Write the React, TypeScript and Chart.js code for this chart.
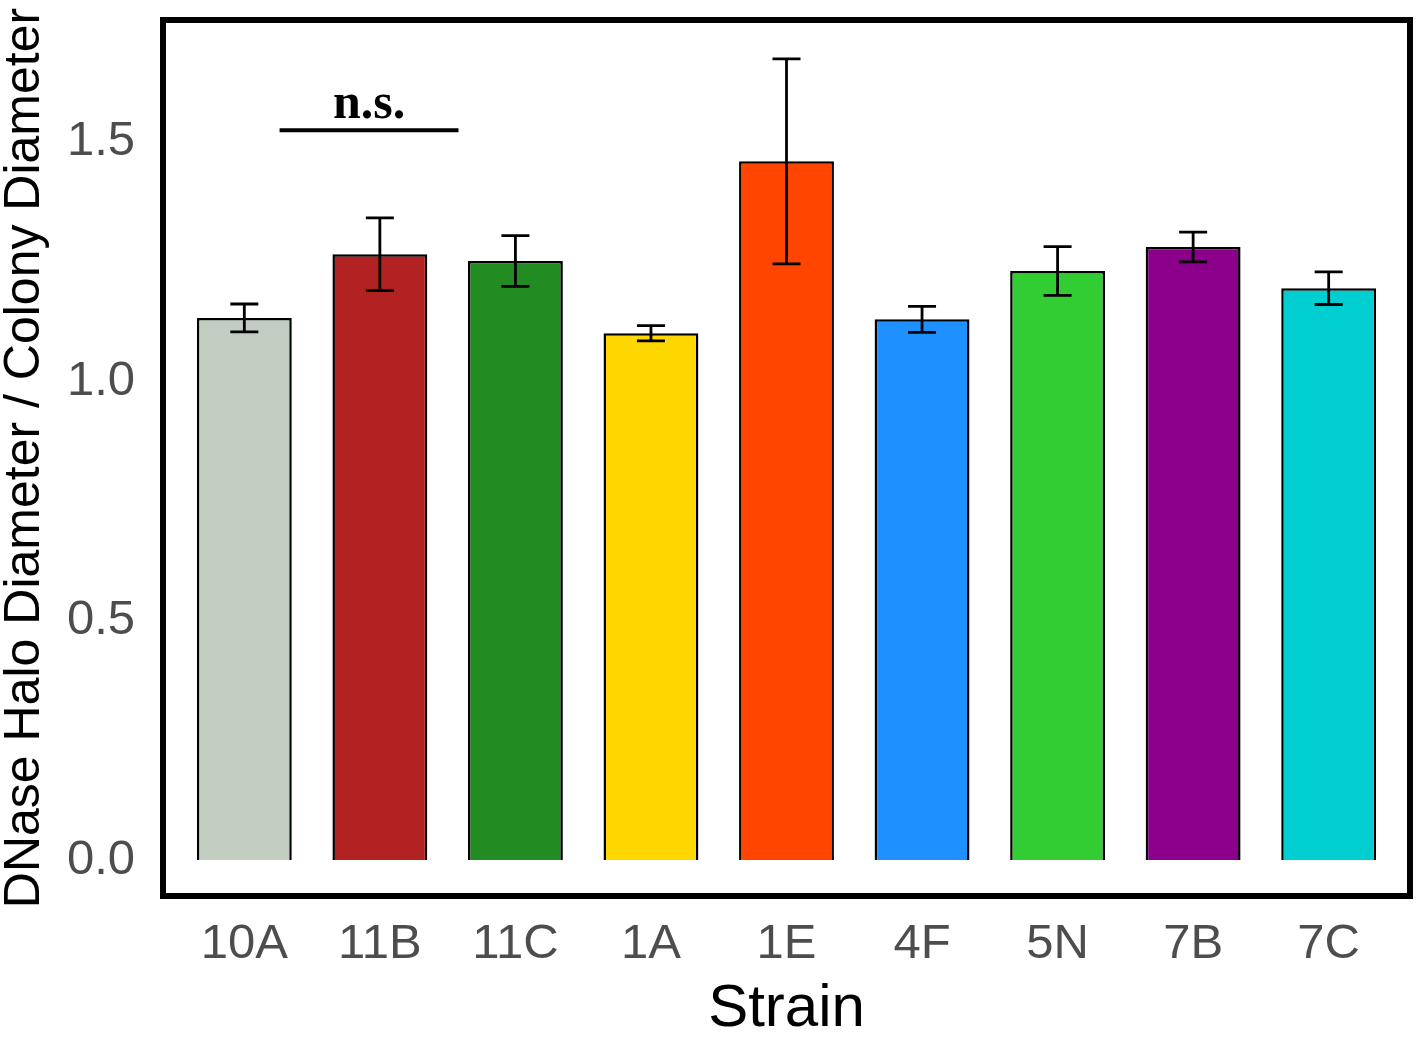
import React, { useEffect, useRef } from 'react';
import { Chart, registerables } from 'chart.js';

Chart.register(...registerables);

const strains = ['10A', '11B', '11C', '1A', '1E', '4F', '5N', '7B', '7C'];
const ratioMeans = [1.132, 1.265, 1.251, 1.1, 1.459, 1.129, 1.23, 1.28, 1.194];
const ratioErrors = [0.029, 0.076, 0.053, 0.016, 0.214, 0.027, 0.051, 0.031, 0.034];
const barColors = ['#c1cdc1', '#b22222', '#228b22', '#ffd700', '#ff4500', '#1e90ff', '#32cd32', '#8b008b', '#00ced1'];
const yTicks = [0, 0.5, 1.0, 1.5];

// significance bracket between 10A/11B/11C (x in category units, y in data units)
const nsFrom = 0.26;
const nsTo = 1.58;
const nsY = 1.524;
const nsLabel = 'n.s.';

const SANS = '"Liberation Sans", Arial, sans-serif';

const extrasPlugin = {
  id: 'extras',
  beforeDraw(chart: any) {
    const { ctx, width, height } = chart;
    ctx.save();
    ctx.fillStyle = '#ffffff';
    ctx.fillRect(0, 0, width, height);
    ctx.restore();
  },
  afterDatasetsDraw(chart: any) {
    const { ctx, chartArea, scales } = chart;
    const x = scales.x;
    const y = scales.y;
    ctx.save();

    // error bars
    ctx.strokeStyle = '#000';
    ctx.lineWidth = 2.8;
    ratioMeans.forEach((m, i) => {
      const px = x.getPixelForValue(i);
      const top = y.getPixelForValue(m + ratioErrors[i]);
      const bot = y.getPixelForValue(m - ratioErrors[i]);
      const cap = 14;
      ctx.beginPath();
      ctx.moveTo(px, top);
      ctx.lineTo(px, bot);
      ctx.moveTo(px - cap, top);
      ctx.lineTo(px + cap, top);
      ctx.moveTo(px - cap, bot);
      ctx.lineTo(px + cap, bot);
      ctx.stroke();
    });

    // n.s. bracket
    const ly = y.getPixelForValue(nsY);
    const lx1 = x.getPixelForValue(nsFrom);
    const lx2 = x.getPixelForValue(nsTo);
    ctx.lineWidth = 4;
    ctx.beginPath();
    ctx.moveTo(lx1, ly);
    ctx.lineTo(lx2, ly);
    ctx.stroke();
    ctx.fillStyle = '#000';
    ctx.font = 'bold 50px "Liberation Serif", "Times New Roman", serif';
    ctx.textAlign = 'center';
    ctx.textBaseline = 'alphabetic';
    ctx.fillText(nsLabel, (lx1 + lx2) / 2, ly - 12);

    // panel border
    ctx.lineWidth = 6;
    ctx.strokeRect(chartArea.left, chartArea.top, chartArea.right - chartArea.left, chartArea.bottom - chartArea.top);
    ctx.restore();
  },
};

const noPad = (scale: any) => {
  scale.paddingTop = 0;
  scale.paddingBottom = 0;
  scale.paddingLeft = 0;
  scale.paddingRight = 0;
};

const App: React.FC = () => {
  const canvasRef = useRef<HTMLCanvasElement>(null);

  useEffect(() => {
    if (!canvasRef.current) return;
    const chart = new Chart(canvasRef.current, {
      type: 'bar',
      data: {
        datasets: [
          {
            data: ratioMeans.map((v, i) => ({ x: i, y: v })),
            backgroundColor: barColors,
            borderColor: '#000',
            borderWidth: 2.5,
            barPercentage: 0.7,
            categoryPercentage: 1,
          },
        ],
      },
      options: {
        animation: false,
        responsive: true,
        maintainAspectRatio: false,
        layout: { padding: { top: 20, right: 7, left: 0, bottom: 0 } },
        plugins: {
          legend: { display: false },
          tooltip: { enabled: false },
        },
        scales: {
          x: {
            type: 'linear',
            offset: false,
            min: -0.6,
            max: 8.6,
            grid: { display: false, drawTicks: false },
            border: { display: false },
            afterBuildTicks: (scale: any) => {
              scale.ticks = strains.map((_, i) => ({ value: i }));
            },
            afterFit: (scale: any) => {
              scale.height = 143;
              noPad(scale);
            },
            ticks: {
              autoSkip: false,
              maxRotation: 0,
              padding: 24,
              color: '#4d4d4d',
              font: { family: SANS, size: 49, lineHeight: 1 },
              callback: (v: any) => strains[v],
            },
            title: {
              display: true,
              text: 'Strain',
              color: '#000',
              padding: 0,
              font: { family: SANS, size: 60, lineHeight: 1 },
            },
          },
          y: {
            min: -0.075,
            max: 1.754,
            grid: { display: false, drawTicks: false },
            border: { display: false },
            afterBuildTicks: (scale: any) => {
              scale.ticks = yTicks.map((v) => ({ value: v }));
            },
            afterFit: (scale: any) => {
              scale.width = 163;
              noPad(scale);
            },
            ticks: {
              padding: 28,
              color: '#4d4d4d',
              font: { family: SANS, size: 49, lineHeight: 1 },
              callback: (v: any) => Number(v).toFixed(1),
            },
            title: {
              display: true,
              text: 'DNase Halo Diameter / Colony Diameter',
              color: '#000',
              padding: 0,
              font: { family: SANS, size: 50, lineHeight: 1 },
            },
          },
        },
      } as any,
      plugins: [extrasPlugin],
    });
    return () => chart.destroy();
  }, []);

  return (
    <div style={{ position: 'absolute', left: 0, top: 0, width: 1417, height: 1039, background: '#fff' }}>
      <canvas ref={canvasRef}></canvas>
    </div>
  );
};

export default App;
